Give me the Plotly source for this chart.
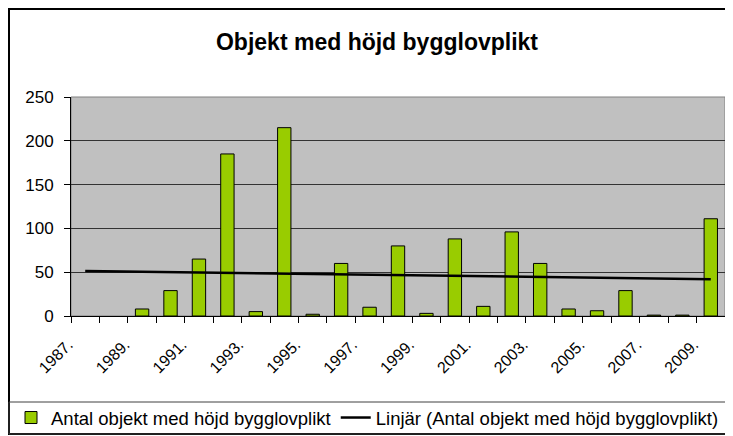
import numpy as np
import plotly.graph_objects as go

years = list(range(1987, 2010))
values = [0, 0, 8, 29, 65, 185, 5, 215, 2, 60, 10, 80, 3, 88, 11, 96, 60, 8, 6, 29, 1, 1, 111]
label_years = years[::2]
tick_labels = [f"{y}." for y in label_years]
bar_name = "Antal objekt med höjd bygglovplikt"
trend_name = "Linjär (Antal objekt med höjd bygglovplikt)"
title_text = "Objekt med höjd bygglovplikt"

# linear trendline (as in the spreadsheet's "Linjär" trendline)
slope, intercept = np.polyfit(years, values, 1)
trend = [slope * y + intercept for y in years]
# empty years draw no bar
bar_values = [v if v else None for v in values]

# the page adds an 8px body margin, so the figure is 8px smaller
W, H = 725, 428
L, R, T, B = 63, 8, 89, 120
PW, PH = W - L - R, H - T - B


def px(x):
    return (x - L) / PW


def py(y):
    return (H - B - y) / PH


FONT = "Liberation Sans, Arial, sans-serif"

fig = go.Figure()
fig.add_trace(go.Bar(
    x=years, y=bar_values, name=bar_name,
    marker=dict(color="#99CC00", line=dict(color="black", width=1)),
))
fig.add_trace(go.Scatter(
    x=years, y=trend, name=trend_name, mode="lines",
    line=dict(color="black", width=2.5),
))

shapes = [
    # outer chart border
    dict(type="rect", xref="paper", yref="paper", x0=px(1), x1=px(745), y0=py(1), y1=py(426),
         line=dict(color="black", width=2), layer="above"),
    # legend box
    dict(type="rect", xref="paper", yref="paper", x0=px(1), x1=px(745), y0=py(394), y1=py(426),
         line=dict(color="#404040", width=1), layer="above"),
    # plot area border
    dict(type="rect", xref="paper", yref="paper", x0=0, x1=1, y0=0, y1=1,
         line=dict(color="#808080", width=1), layer="below"),
]

fig.update_layout(
    width=W, height=H,
    margin=dict(l=L, r=R, t=T, b=B, autoexpand=False),
    paper_bgcolor="white",
    plot_bgcolor="#C0C0C0",
    font=dict(family=FONT, size=16, color="black"),
    title=dict(text=f"<b>{title_text}</b>", x=369 / W, xref="container", xanchor="center",
               y=1 - 34 / H, yref="container", yanchor="middle",
               font=dict(family=FONT, size=23, color="black")),
    bargap=0.53,
    showlegend=True,
    legend=dict(orientation="h", x=px(3), y=py(410), xanchor="left", yanchor="middle",
                font=dict(family=FONT, size=18.5, color="black"),
                bgcolor="rgba(0,0,0,0)", borderwidth=0, itemwidth=30,
                traceorder="normal"),
    shapes=shapes,
)

fig.update_xaxes(
    range=[1986.5, 2009.5], automargin=False,
    tickvals=label_years, ticktext=tick_labels, tickangle=-45,
    ticks="", showgrid=False, zeroline=False,
    showline=True, linecolor="black", linewidth=1,
    tickfont=dict(family=FONT, size=16),
    ticklabelshift=-17, ticklabelstandoff=12,
    minor=dict(tickvals=[1986.5 + i for i in range(24)], ticks="outside", ticklen=6,
               tickcolor="black", tickwidth=1, showgrid=False),
)
fig.update_yaxes(
    range=[0, 250], tickvals=[0, 50, 100, 150, 200, 250], automargin=False,
    ticks="outside", ticklen=6, tickcolor="black", tickwidth=1,
    showgrid=True, gridcolor="#333333", gridwidth=1,
    zeroline=False, showline=True, linecolor="black", linewidth=1,
    tickfont=dict(family=FONT, size=17),
    ticklabelstandoff=7,
)

fig.write_html("out.html")
